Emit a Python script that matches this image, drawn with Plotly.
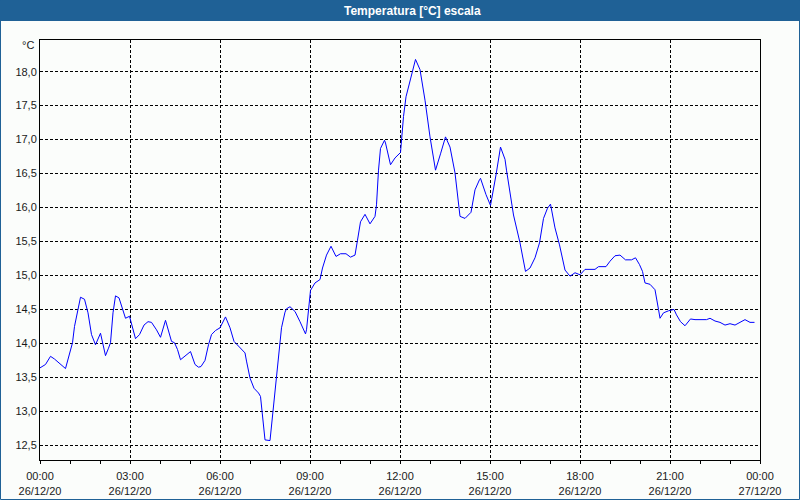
import plotly.graph_objects as go

DAY = "2020-12-26"
times = [
    "00:00", "00:11", "00:21", "00:29", "00:51", "00:59", "01:05", "01:09", "01:16", "01:21",
    "01:29", "01:36", "01:43", "01:51", "02:01", "02:11", "02:17", "02:21", "02:26", "02:31",
    "02:38", "02:43", "02:51", "02:59", "03:03", "03:11", "03:19", "03:28", "03:36", "03:43",
    "03:53", "04:01", "04:11", "04:16", "04:23", "04:29", "04:35", "04:41", "04:49", "05:01",
    "05:10", "05:17", "05:22", "05:30", "05:37", "05:43", "05:51", "06:00", "06:11", "06:20",
    "06:28", "06:37", "06:50", "06:53", "07:00", "07:08", "07:17", "07:21", "07:25", "07:30",
    "07:40", "07:45", "07:51", "07:58", "08:03", "08:10", "08:13", "08:20", "08:30", "08:40",
    "08:51", "08:53", "08:58", "09:01", "09:10", "09:20", "09:25", "09:33", "09:42", "09:52",
    "10:01", "10:12", "10:21", "10:30", "10:35", "10:41", "10:50", "11:00", "11:10", "11:13",
    "11:17", "11:21", "11:29", "11:31", "11:41", "11:50", "12:01", "12:03", "12:07", "12:12",
    "12:20", "12:31", "12:40", "12:50", "13:00", "13:11", "13:21", "13:31", "13:40", "13:50",
    "14:00", "14:10", "14:22", "14:30", "14:39", "14:41", "14:52", "15:01", "15:12", "15:21",
    "15:30", "15:33", "15:47", "16:00", "16:11", "16:20", "16:30", "16:39", "16:47", "16:55",
    "17:01", "17:10", "17:19", "17:30", "17:40", "17:50", "18:00", "18:10", "18:30", "18:37",
    "18:52", "19:00", "19:10", "19:20", "19:31", "19:43", "19:51", "19:59", "20:05", "20:10",
    "20:20", "20:30", "20:37", "20:40", "20:47", "20:57", "21:08", "21:13", "21:21", "21:30",
    "21:41", "21:50", "22:13", "22:20", "22:30", "22:40", "22:50", "23:00", "23:10", "23:20",
    "23:30", "23:40", "23:49",
]
temps = [
    13.64, 13.69, 13.81, 13.77, 13.63, 13.83, 14.01, 14.25, 14.50, 14.68,
    14.65, 14.45, 14.13, 13.98, 14.15, 13.82, 13.93, 14.01, 14.45, 14.70,
    14.67, 14.54, 14.37, 14.40, 14.30, 14.07, 14.13, 14.27, 14.32, 14.31,
    14.20, 14.09, 14.34, 14.20, 14.03, 14.01, 13.91, 13.76, 13.81, 13.88,
    13.69, 13.65, 13.66, 13.75, 13.98, 14.13, 14.19, 14.23, 14.39, 14.23,
    14.03, 13.96, 13.86, 13.74, 13.49, 13.34, 13.27, 13.22, 12.90, 12.58,
    12.57, 12.93, 13.47, 13.96, 14.23, 14.46, 14.51, 14.54, 14.47, 14.32,
    14.14, 14.20, 14.59, 14.78, 14.89, 14.94, 15.11, 15.30, 15.43, 15.28,
    15.32, 15.32, 15.27, 15.30, 15.52, 15.79, 15.90, 15.76, 15.87, 16.04,
    16.55, 16.87, 16.99, 16.95, 16.63, 16.73, 16.81, 17.04, 17.34, 17.63,
    17.85, 18.18, 18.03, 17.58, 17.04, 16.55, 16.79, 17.04, 16.89, 16.51,
    15.87, 15.84, 15.93, 16.26, 16.41, 16.43, 16.19, 16.03, 16.48, 16.89,
    16.71, 16.55, 15.89, 15.48, 15.06, 15.11, 15.26, 15.48, 15.84, 15.99,
    16.05, 15.70, 15.45, 15.08, 14.99, 15.04, 15.01, 15.09, 15.09, 15.13,
    15.13, 15.21, 15.29, 15.30, 15.23, 15.23, 15.26, 15.16, 15.06, 14.89,
    14.87, 14.79, 14.50, 14.37, 14.45, 14.48, 14.50, 14.42, 14.32, 14.26,
    14.36, 14.35, 14.35, 14.37, 14.33, 14.31, 14.27, 14.29, 14.27, 14.31,
    14.35, 14.31, 14.31,
]
y_ticks = [12.5, 13.0, 13.5, 14.0, 14.5, 15.0, 15.5, 16.0, 16.5, 17.0, 17.5, 18.0]
title_text = "Temperatura [°C] escala"
unit_text = "°C"

x = [f"{DAY} {t}" for t in times]

W, H = 800, 500
L, R, T, B = 40, 40, 40, 40
PW, PH = W - L - R, H - T - B


def px(xp):
    return (xp - L) / PW


def py(yp):
    return (H - B - yp) / PH


BLUE = "#1f6196"
BG = "#fbfdfb"
FONT = "Liberation Sans"
TXT = "#1a1a1a"

fig = go.Figure()
fig.add_trace(go.Scatter(x=x, y=temps, mode="lines",
                         line=dict(color="#0000ff", width=1), hoverinfo="x+y"))

fig.update_layout(
    width=W, height=H,
    margin=dict(l=L, r=R, t=T, b=B, autoexpand=False),
    paper_bgcolor=BG, plot_bgcolor=BG,
    showlegend=False,
    separators=",.",
    font=dict(family=FONT, size=11, color=TXT),
    xaxis=dict(
        type="date", automargin=False,
        range=["2020-12-26 00:00", "2020-12-27 00:00"],
        dtick=3 * 3600 * 1000, tick0="2020-12-26 00:00",
        tickformat="%H:%M<br>%d/%m/%y",
        ticks="outside", ticklen=3, tickcolor="black", tickwidth=1,
        ticklabelstandoff=3,
        showgrid=True, gridcolor="black", gridwidth=1, griddash="3px,2px",
        showline=True, linecolor="black", linewidth=1, mirror=True,
        zeroline=False,
        minor=dict(dtick=3600 * 1000, ticks="outside", ticklen=3,
                   tickcolor="black", showgrid=False),
        tickfont=dict(family=FONT, size=11, color=TXT),
    ),
    yaxis=dict(
        automargin=False,
        range=[12.284, 18.466],
        tickvals=y_ticks, tickformat=".1f",
        ticks="", showgrid=True, gridcolor="black", gridwidth=1, griddash="3px,2px",
        showline=True, linecolor="black", linewidth=1, mirror=True,
        zeroline=False,
        tickfont=dict(family=FONT, size=11, color=TXT),
    ),
    shapes=[
        dict(type="rect", xref="paper", yref="paper", x0=px(0), x1=px(800),
             y0=py(21), y1=py(0), fillcolor=BLUE, line=dict(width=0), layer="above"),
        dict(type="rect", xref="paper", yref="paper", x0=px(0.5), x1=px(799.5),
             y0=py(499.5), y1=py(0.5), line=dict(color=BLUE, width=1), layer="above"),
    ],
    annotations=[
        dict(text=f"<b>{title_text}</b>", xref="paper", yref="paper",
             x=px(412), y=py(10.5), xanchor="center", yanchor="middle", showarrow=False,
             font=dict(family=FONT, size=12, color="white")),
        dict(text=unit_text, xref="paper", yref="paper",
             x=px(36), y=py(45), xanchor="right", yanchor="middle", showarrow=False,
             font=dict(family=FONT, size=11, color=TXT)),
    ],
)

fig.write_html(
    "out.html",
    config={"displayModeBar": False},
    post_script="document.body.style.margin='0';document.body.style.overflow='hidden';",
)
